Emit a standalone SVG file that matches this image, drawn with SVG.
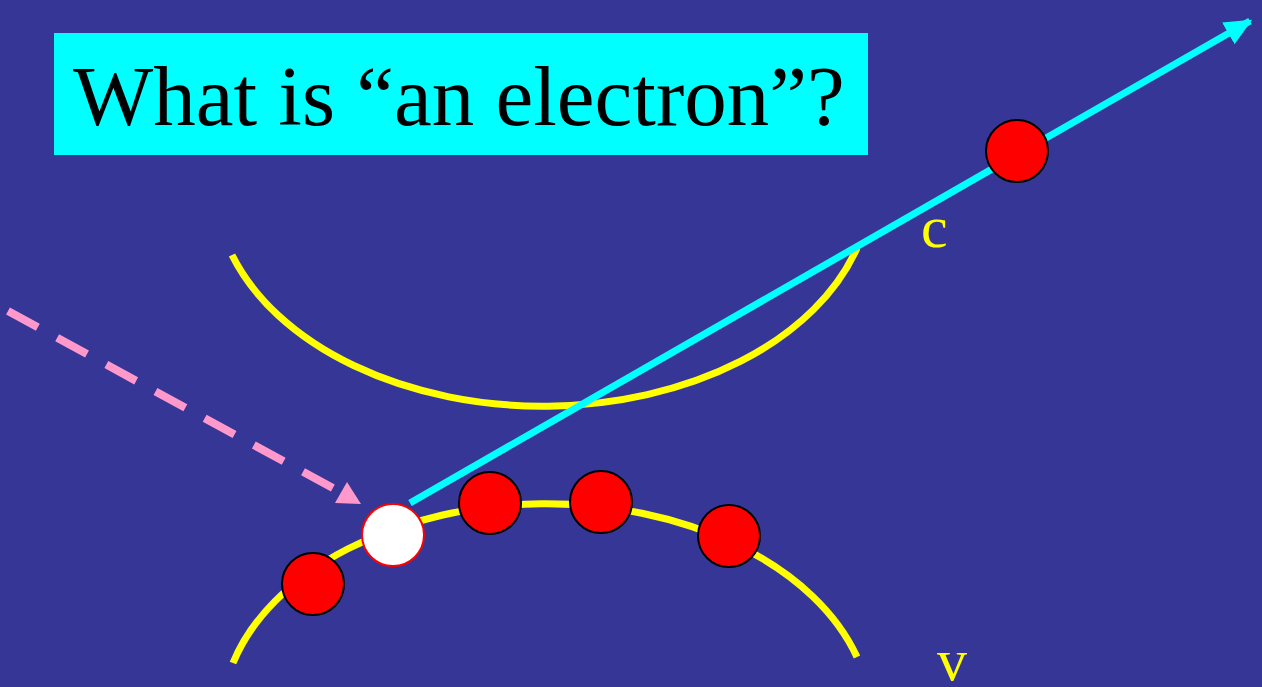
<svg xmlns="http://www.w3.org/2000/svg" width="1262" height="687" viewBox="0 0 1262 687">
<style>
.arc{fill:none;stroke:#FFFF00;stroke-width:7}
.e{fill:#FF0000;stroke:#000;stroke-width:2}
.serif{font-family:"Liberation Serif","Times New Roman",serif}
.lbl{fill:#FFFF00;font-size:60px}
.ttl{fill:#000000;font-size:85px}
</style>
<defs>
<marker id="cyanHead" markerUnits="userSpaceOnUse" markerWidth="30" markerHeight="30" refX="20" refY="10" orient="auto" viewBox="0 0 24 20">
<path d="M0,0 L22,10 L0,20 z" fill="#00FFFF"/>
</marker>
</defs>
<rect width="1262" height="687" fill="#363696"/>
<g id="title">
<rect x="54" y="33" width="814" height="122" fill="#00FFFF"/>
<text class="serif ttl" x="73" y="125"><tspan>What is </tspan><tspan>“</tspan><tspan>an electron</tspan><tspan>”?</tspan></text>
</g>
<g id="conduction-band">
<path class="arc" d="M232,255 A328,222 0 0 0 857,248"/>
<text class="serif lbl" x="921" y="247">c</text>
</g>
<g id="valence-band">
<path class="arc" d="M233,663 A325,217 0 0 1 857,657"/>
<text class="serif lbl" x="937" y="680" font-size="58">v</text>
</g>
<g id="connectors">
<line x1="8" y1="311" x2="340" y2="492" stroke="#FF99CC" stroke-width="8" stroke-dasharray="34 22"/>
<polygon points="335,503 347,482 361,504" fill="#FF99CC"/>
<line x1="410" y1="503" x2="1250" y2="21" stroke="#00FFFF" stroke-width="7" marker-end="url(#cyanHead)"/>
</g>
<g id="free-electron"><circle class="e" cx="1017" cy="151" r="31"/></g>
<g id="electron-1"><circle class="e" cx="313" cy="584" r="31"/></g>
<g id="hole"><circle cx="393" cy="535" r="31" fill="#FFFFFF" stroke="#FF0000" stroke-width="2"/></g>
<g id="electron-2"><circle class="e" cx="490" cy="503" r="31"/></g>
<g id="electron-3"><circle class="e" cx="601" cy="502" r="31"/></g>
<g id="electron-4"><circle class="e" cx="729" cy="536" r="31"/></g>
</svg>
